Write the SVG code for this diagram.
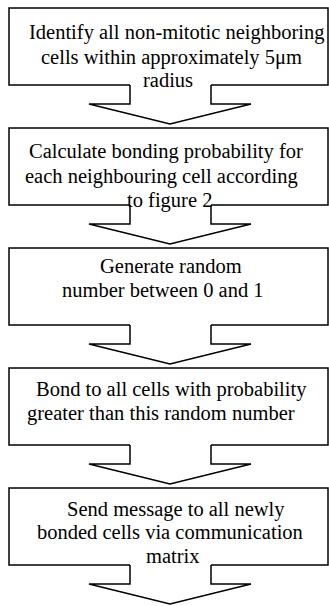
<svg xmlns="http://www.w3.org/2000/svg" width="329" height="606" viewBox="0 0 329 606">
<style>
.box{fill:none;stroke:#000;stroke-width:1.5;stroke-linejoin:miter}
.arr{fill:none;stroke:#000;stroke-width:1.5;stroke-linejoin:miter}
text{font-family:"Liberation Serif","Times New Roman",serif;font-size:20.5px;fill:#000}
</style>
<defs>
<path id="boxshape" d="M130,85 H9 V8 H328 V85 H211"/>
<path id="arrowshape" d="M130,85 V104 H89 L170,124 L251,104 H211 V85"/>
</defs>
<rect width="329" height="606" fill="#fff"/>
<g id="connectors">
<use href="#arrowshape" class="arr"/>
<use href="#arrowshape" class="arr" transform="translate(0,120)"/>
<use href="#arrowshape" class="arr" transform="translate(0,240)"/>
<use href="#arrowshape" class="arr" transform="translate(0,360)"/>
<use href="#arrowshape" class="arr" transform="translate(0,480)"/>
</g>
<g id="node1">
<use href="#boxshape" class="box"/>
<text x="29" y="39">Identify all non-mitotic neighboring</text>
<text x="41" y="64">cells within approximately 5μm</text>
<text x="143" y="87">radius</text>
</g>
<g id="node2">
<use href="#boxshape" class="box" transform="translate(0,120)"/>
<text x="29" y="158">Calculate bonding probability for</text>
<text x="25" y="183">each neighbouring cell according</text>
<text x="127" y="207">to figure 2</text>
</g>
<g id="node3">
<use href="#boxshape" class="box" transform="translate(0,240)"/>
<text x="100" y="273">Generate random</text>
<text x="62" y="297">number between 0 and 1</text>
</g>
<g id="node4">
<use href="#boxshape" class="box" transform="translate(0,360)"/>
<text x="36" y="396">Bond to all cells with probability</text>
<text x="27" y="420">greater than this random number</text>
</g>
<g id="node5">
<use href="#boxshape" class="box" transform="translate(0,480)"/>
<text x="67" y="516">Send message to all newly</text>
<text x="37" y="539">bonded cells via communication</text>
<text x="146" y="563">matrix</text>
</g>
</svg>
